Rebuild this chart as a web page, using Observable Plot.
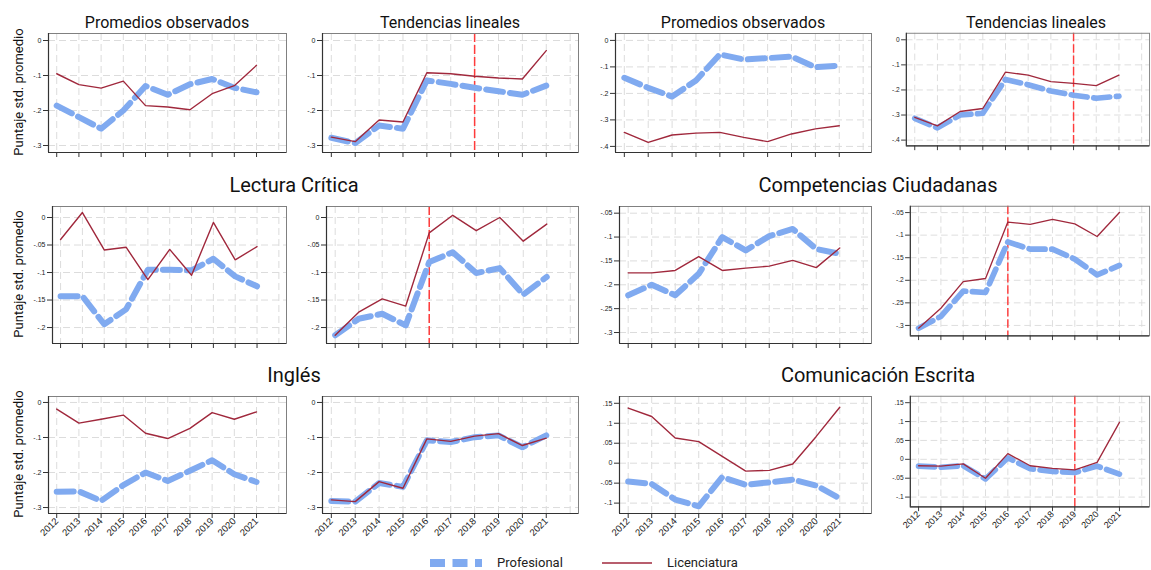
<!DOCTYPE html>
<html>
<head>
<meta charset="utf-8">
<script src="https://cdn.jsdelivr.net/npm/d3@7"></script>
<script src="https://cdn.jsdelivr.net/npm/@observablehq/plot@0.6"></script>
<style>
  body { margin: 0; background: #fff; }
  #root { position: relative; width: 1151px; height: 570px; overflow: hidden; background: #fff; font-family: Roboto, "Liberation Sans", sans-serif; color: #111; }
  .panel { position: absolute; }
  .title { position: absolute; white-space: nowrap; transform: translateX(-50%); line-height: 1; }
  .ytitle { position: absolute; white-space: nowrap; font-family: "Liberation Sans Narrow", "Arial Narrow", Roboto, sans-serif; font-size: 13px; line-height: 1; transform: translate(-50%, -50%) rotate(-90deg); }
  .legend { position: absolute; white-space: nowrap; font-size: 13px; line-height: 1; color: #222; }
</style>
</head>
<body>
<div id="root"></div>
<script>
// ---------------- DATA ----------------
const years = [2012, 2013, 2014, 2015, 2016, 2017, 2018, 2019, 2020, 2021];
const gridYears = [2012, 2013, 2014, 2015, 2016, 2017, 2018, 2019, 2020, 2021, 2022];

// Row 1, left group (subject title not shown)
const obsA_prof   = [-0.186, -0.219, -0.252, -0.200, -0.130, -0.155, -0.125, -0.110, -0.135, -0.148];
const obsA_lic    = [-0.095, -0.126, -0.136, -0.116, -0.186, -0.190, -0.198, -0.152, -0.129, -0.071];
const trendA_prof = [-0.278, -0.293, -0.243, -0.252, -0.114, -0.124, -0.135, -0.145, -0.155, -0.129];
const trendA_lic  = [-0.276, -0.289, -0.227, -0.233, -0.092, -0.095, -0.102, -0.107, -0.110, -0.029];
const cutA = 2018;
const ticksA = [0, -0.1, -0.2, -0.3];

// Row 1, right group
const obsB_prof   = [-0.141, -0.179, -0.212, -0.151, -0.053, -0.072, -0.067, -0.061, -0.101, -0.095];
const obsB_lic    = [-0.347, -0.385, -0.357, -0.350, -0.347, -0.366, -0.382, -0.353, -0.334, -0.322];
const trendB_prof = [-0.313, -0.351, -0.300, -0.293, -0.158, -0.179, -0.204, -0.221, -0.233, -0.225];
const trendB_lic  = [-0.309, -0.343, -0.286, -0.274, -0.129, -0.141, -0.167, -0.174, -0.183, -0.141];
const cutB = 2019;
const ticksB = [0, -0.1, -0.2, -0.3, -0.4];

// Lectura Crítica
const lcObs_prof   = [-0.143, -0.143, -0.194, -0.167, -0.095, -0.095, -0.096, -0.075, -0.107, -0.125];
const lcObs_lic    = [-0.040, 0.009, -0.059, -0.054, -0.113, -0.058, -0.105, -0.009, -0.077, -0.053];
const lcTrend_prof = [-0.214, -0.184, -0.175, -0.196, -0.081, -0.063, -0.101, -0.092, -0.140, -0.108];
const lcTrend_lic  = [-0.214, -0.172, -0.148, -0.161, -0.028, 0.004, -0.024, 0.000, -0.043, -0.012];
const cutLC = 2016;
const ticksLC = [0, -0.05, -0.1, -0.15, -0.2];

// Competencias Ciudadanas
const ccObs_prof   = [-0.222, -0.200, -0.222, -0.177, -0.100, -0.128, -0.098, -0.083, -0.125, -0.135];
const ccObs_lic    = [-0.175, -0.175, -0.170, -0.141, -0.170, -0.165, -0.161, -0.149, -0.164, -0.123];
const ccTrend_prof = [-0.306, -0.280, -0.224, -0.227, -0.115, -0.131, -0.131, -0.153, -0.188, -0.167];
const ccTrend_lic  = [-0.306, -0.262, -0.203, -0.196, -0.071, -0.076, -0.065, -0.075, -0.103, -0.050];
const cutCC = 2016;
const ticksCC = [-0.05, -0.1, -0.15, -0.2, -0.25, -0.3];

// Inglés
const inObs_prof   = [-0.255, -0.254, -0.281, -0.236, -0.200, -0.224, -0.195, -0.165, -0.205, -0.227];
const inObs_lic    = [-0.019, -0.059, -0.048, -0.036, -0.088, -0.103, -0.074, -0.029, -0.048, -0.027];
const inTrend_prof = [-0.281, -0.283, -0.230, -0.241, -0.108, -0.113, -0.099, -0.094, -0.128, -0.094];
const inTrend_lic  = [-0.278, -0.283, -0.226, -0.245, -0.104, -0.111, -0.096, -0.089, -0.123, -0.102];
const ticksIN = [0, -0.1, -0.2, -0.3];

// Comunicación Escrita
const ceObs_prof   = [-0.046, -0.052, -0.091, -0.108, -0.035, -0.054, -0.048, -0.041, -0.056, -0.088];
const ceObs_lic    = [0.138, 0.117, 0.063, 0.054, 0.017, -0.020, -0.018, -0.002, 0.067, 0.140];
const ceTrend_prof = [-0.018, -0.021, -0.017, -0.052, 0.004, -0.025, -0.032, -0.035, -0.018, -0.039];
const ceTrend_lic  = [-0.017, -0.018, -0.012, -0.050, 0.015, -0.017, -0.024, -0.028, -0.008, 0.098];
const cutCE = 2019;
const ticksCE = [0.15, 0.1, 0.05, 0, -0.05, -0.1];

const rowTitles = ["Lectura Crítica", "Competencias Ciudadanas", "Inglés", "Comunicación Escrita"];
const colTitles = ["Promedios observados", "Tendencias lineales"];
const seriesNames = ["Profesional", "Licenciatura"];
const yTitle = "Puntaje std. promedio";

// ---------------- STYLE ----------------
const BLUE = "#80aaf0";
const RED = "#a0283c";
const CUT = "#ff3b3b";
const xDomain = [2011.63, 2022.35];

function stataFmt(v) {
  const s = String(+(+v).toFixed(3));
  return s.replace(/^(-?)0\./, "$1.");
}

const root = document.getElementById("root");

function panel({left, right, top, fh, yd, yticks, prof, lic, cut, xlabels}) {
  const ml = 40, mt = 4, mr = 2, mb = xlabels ? 44 : 10;
  const fw = right - left;
  const data = years.map((year, i) => ({year, prof: prof[i], lic: lic[i]}));
  const svg = Plot.plot({
    width: ml + fw + mr,
    height: mt + fh + mb,
    marginLeft: ml, marginRight: mr, marginTop: mt, marginBottom: mb,
    style: {fontFamily: "'Liberation Sans', Arial, sans-serif", fontSize: "7px", color: "#222", background: "transparent", overflow: "visible"},
    x: {domain: xDomain, label: null},
    y: {domain: yd, label: null},
    marks: [
      Plot.gridX(gridYears, {stroke: "#dcdcdc", strokeOpacity: 1, strokeDasharray: "7,4"}),
      Plot.gridY(yticks, {stroke: "#dcdcdc", strokeOpacity: 1, strokeDasharray: "7,4"}),
      cut ? Plot.ruleX([cut], {stroke: CUT, strokeWidth: 1.5, strokeDasharray: "9,3"}) : null,
      Plot.lineY(data, {x: "year", y: "prof", stroke: BLUE, strokeWidth: 6, strokeDasharray: "17,7"}),
      Plot.lineY(data, {x: "year", y: "lic", stroke: RED, strokeWidth: 1.4}),
      Plot.frame({stroke: "#808080"}),
      Plot.ruleX([xDomain[0]], {stroke: "#333", strokeWidth: 1.2}),
      Plot.ruleY([yd[0]], {stroke: "#333", strokeWidth: 1.2}),
      Plot.axisY(yticks, {tickFormat: stataFmt, tickSize: 5, tickPadding: 2, fontSize: 7, stroke: "#333"}),
      Plot.axisX(years, {tickSize: 5, tickPadding: 1, stroke: "#333",
        tickFormat: xlabels ? (d => String(d)) : (() => ""),
        tickRotate: xlabels ? -45 : 0, fontSize: 9.5})
    ]
  });
  const div = document.createElement("div");
  div.className = "panel";
  div.style.left = (left - ml) + "px";
  div.style.top = (top - mt) + "px";
  div.appendChild(svg);
  root.appendChild(div);
}

function title(text, cx, baseline, size) {
  const d = document.createElement("div");
  d.className = "title";
  d.textContent = text;
  d.style.fontSize = size + "px";
  d.style.left = cx + "px";
  d.style.top = (baseline - 0.84 * size) + "px";
  root.appendChild(d);
}

function ytitle(cy) {
  const d = document.createElement("div");
  d.className = "ytitle";
  d.textContent = yTitle;
  d.style.left = "18px";
  d.style.top = cy + "px";
  root.appendChild(d);
}

// Row 1
const r1 = {top: 33, fh: 119};
panel({...r1, left: 48, right: 286, yd: [-0.32, 0.02], yticks: ticksA, prof: obsA_prof, lic: obsA_lic});
panel({...r1, left: 322, right: 578, yd: [-0.32, 0.02], yticks: ticksA, prof: trendA_prof, lic: trendA_lic, cut: cutA});
panel({...r1, left: 615, right: 871, yd: [-0.423, 0.026], yticks: ticksB, prof: obsB_prof, lic: obsB_lic});
panel({...r1, left: 908, right: 1165, yd: [-0.423, 0.026], yticks: ticksB, prof: trendB_prof, lic: trendB_lic, cut: cutB});

// Row 2
const r2 = {top: 206, fh: 137};
panel({...r2, left: 52, right: 286, yd: [-0.229, 0.02], yticks: ticksLC, prof: lcObs_prof, lic: lcObs_lic});
panel({...r2, left: 326, right: 578, yd: [-0.229, 0.02], yticks: ticksLC, prof: lcTrend_prof, lic: lcTrend_lic, cut: cutLC});
panel({...r2, left: 619, right: 871, yd: [-0.323, -0.036], yticks: ticksCC, prof: ccObs_prof, lic: ccObs_lic});
panel({...r2, left: 912, right: 1165, yd: [-0.323, -0.036], yticks: ticksCC, prof: ccTrend_prof, lic: ccTrend_lic, cut: cutCC});

// Row 3
const r3 = {top: 396, fh: 117, xlabels: true};
panel({...r3, left: 48, right: 286, yd: [-0.317, 0.017], yticks: ticksIN, prof: inObs_prof, lic: inObs_lic});
panel({...r3, left: 322, right: 578, yd: [-0.317, 0.017], yticks: ticksIN, prof: inTrend_prof, lic: inTrend_lic});
panel({...r3, left: 619, right: 871, yd: [-0.126, 0.167], yticks: ticksCE, prof: ceObs_prof, lic: ceObs_lic});
panel({...r3, left: 912, right: 1165, yd: [-0.126, 0.167], yticks: ticksCE, prof: ceTrend_prof, lic: ceTrend_lic, cut: cutCE});

// Titles
title(colTitles[0], 167, 28, 16);
title(colTitles[1], 450, 28, 16);
title(colTitles[0], 743, 28, 16);
title(colTitles[1], 1036, 28, 16);
title(rowTitles[0], 294, 192, 20);
title(rowTitles[1], 878, 192, 20);
title(rowTitles[2], 294, 382, 20);
title(rowTitles[3], 878, 382, 20);

ytitle(92);
ytitle(274);
ytitle(454);

// Legend
(function legend() {
  const sw = document.createElementNS("http://www.w3.org/2000/svg", "svg");
  sw.setAttribute("width", 1151); sw.setAttribute("height", 20);
  sw.style.position = "absolute"; sw.style.left = "0px"; sw.style.top = "553px";
  sw.innerHTML =
    `<line x1="430" x2="482" y1="10" y2="10" stroke="${BLUE}" stroke-width="8" stroke-dasharray="15,7.5"/>` +
    `<line x1="602" x2="652" y1="10" y2="10" stroke="${RED}" stroke-width="1.5"/>`;
  root.appendChild(sw);
  const t1 = document.createElement("div");
  t1.className = "legend"; t1.textContent = seriesNames[0];
  t1.style.left = "497px"; t1.style.top = (567 - 0.84 * 13) + "px";
  root.appendChild(t1);
  const t2 = document.createElement("div");
  t2.className = "legend"; t2.textContent = seriesNames[1];
  t2.style.left = "667px"; t2.style.top = (567 - 0.84 * 13) + "px";
  root.appendChild(t2);
})();
</script>
</body>
</html>
